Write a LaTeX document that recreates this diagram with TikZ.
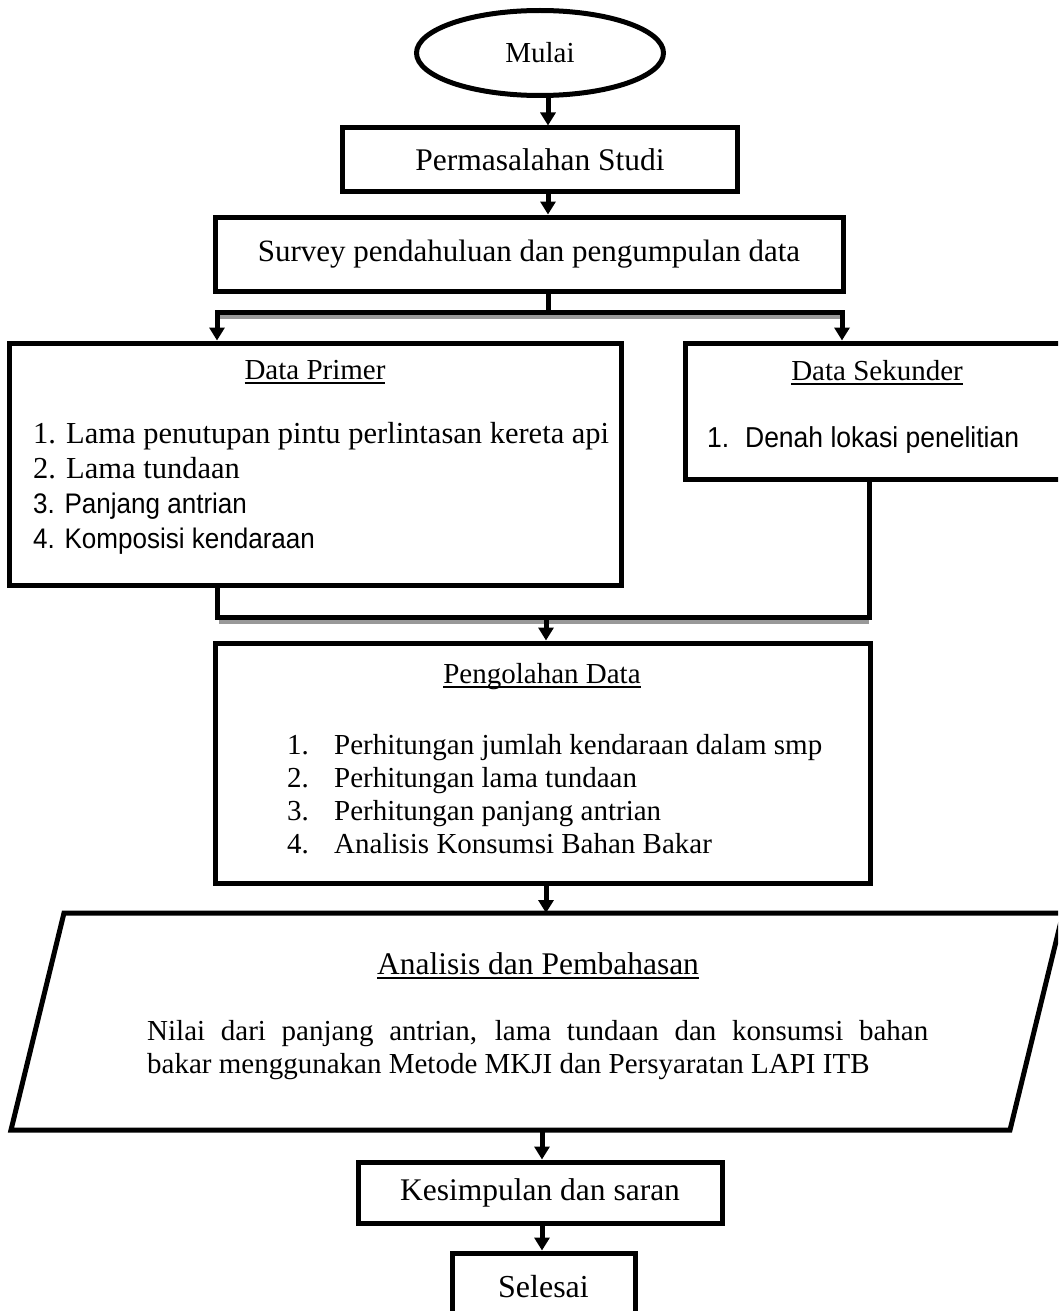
\documentclass[tikz,border=0pt]{standalone}
\usepackage{fontspec}
\setmainfont{Liberation Serif}
\setsansfont{Liberation Sans}
\newfontfamily\narrowsans[FakeStretch=0.92]{Liberation Sans}
\usetikzlibrary{arrows.meta,shapes.geometric}
\tikzset{
  box/.style={draw, line width=5pt, rectangle, inner sep=0pt, line join=miter},
  conn/.style={line width=5pt, line join=miter},
  arr/.style={line width=5pt, line join=miter, -{Triangle[width=15pt,length=13pt]}},
  shadowline/.style={line width=4pt, draw=black!40},
  txt/.style={inner sep=0pt, anchor=base west},
  ttl/.style={inner sep=0pt, anchor=base},
}
\newcommand{\fsz}[1]{\fontsize{#1}{#1}\selectfont}
\newcommand{\ulx}[1]{\setbox0\hbox{#1}\rlap{\rule[-5pt]{\wd0}{1.8pt}}\box0}
\begin{document}
\begin{tikzpicture}[x=1pt,y=-1pt]
\useasboundingbox (0,0) rectangle (1058,1311);
\fill[white] (0,0) rectangle (1058,1311);
\begin{scope}
\clip (0,0) rectangle (1058,1311);
% nodes
\node[ellipse, draw, line width=5pt, minimum width=247pt, minimum height=85pt, inner sep=0pt] (mulai) at (540,53) {\fsz{29}Mulai};
\node[box, minimum width=395pt, minimum height=63pt] (perm) at (540,159.5) {\fsz{31.5}Permasalahan Studi};
\node[box, minimum width=628pt, minimum height=74pt] (survey) at (529,254) {\fsz{31}Survey pendahuluan dan pengumpulan data};
\node[box, minimum width=612pt, minimum height=242pt] (primer) at (315,464) {};
\node[box, minimum width=384pt, minimum height=136pt] (sekunder) at (877,411) {};
\node[box, minimum width=655pt, minimum height=240pt] (olah) at (542.5,763) {};
\node[box, minimum width=364pt, minimum height=61pt] (kes) at (540,1192.5) {\fsz{31.5}Kesimpulan dan saran};
\node[box, minimum width=183pt, minimum height=68pt] (sel) at (543.5,1287) {\fsz{32}Selesai};
% parallelogram
\coordinate (pTL) at (64,913);
\coordinate (pTR) at (1063,913);
\coordinate (pBR) at (1010,1130);
\coordinate (pBL) at (11,1130);
\draw[line width=5pt, line join=miter] (pTL) -- (pTR) -- (pBR) -- (pBL) -- cycle;
% texts
\node[ttl] (primerT) at (315,379) {\fsz{29}\ulx{Data Primer}};
\node[txt] (p1) at (33,443) {\fsz{30.5}1. Lama penutupan pintu perlintasan kereta api};
\node[txt] (p2) at (33,478) {\fsz{30.5}2. Lama tundaan};
\node[txt] (p3) at (33,513) {\fsz{28.3}\narrowsans 3. Panjang antrian};
\node[txt] (p4) at (33,548) {\fsz{28.3}\narrowsans 4. Komposisi kendaraan};
\node[ttl] (sekT) at (877,380) {\fsz{29}\ulx{Data Sekunder}};
\node[txt] (s1) at (707,447) {\fsz{28.8}\narrowsans 1.\hspace{0.55em}Denah lokasi penelitian};
\node[ttl] (olahT) at (542,683) {\fsz{29}\ulx{Pengolahan Data}};
\node[txt] (o1n) at (287,754) {\fsz{29}1.};
\node[txt] (o1) at (334,754) {\fsz{29}Perhitungan jumlah kendaraan dalam smp};
\node[txt] (o2n) at (287,787) {\fsz{29}2.};
\node[txt] (o2) at (334,787) {\fsz{29}Perhitungan lama tundaan};
\node[txt] (o3n) at (287,820) {\fsz{29}3.};
\node[txt] (o3) at (334,820) {\fsz{29}Perhitungan panjang antrian};
\node[txt] (o4n) at (287,853) {\fsz{29}4.};
\node[txt] (o4) at (334,853) {\fsz{29}Analisis Konsumsi Bahan Bakar};
\node[ttl] (anT) at (538,974) {\fsz{31.5}\ulx{Analisis dan Pembahasan}};
\node[txt] (n1) at (147,1040) {\fsz{29}\makebox[781pt][s]{Nilai dari panjang antrian, lama tundaan dan konsumsi bahan}};
\node[txt] (n2) at (147,1073) {\fsz{29}bakar menggunakan Metode MKJI dan Persyaratan LAPI ITB};
% connector coordinates
\coordinate (ax1) at (548,0);
\coordinate (ax2) at (546,0);
\coordinate (ax3) at (542,0);
\coordinate (sj) at (548,312);
\coordinate (sl) at (217,312);
\coordinate (sr) at (842,312);
\coordinate (ml) at (217,617);
\coordinate (mr) at (869,617);
\coordinate (mj) at (546,617);
\coordinate (paraT) at (546,913);
\coordinate (paraB) at (542,1130);
% connectors
\draw[arr] (mulai.south -| ax1) -- (perm.north -| ax1);
\draw[arr] (perm.south -| ax1) -- (survey.north -| ax1);
\draw[shadowline] (219,316.5) -- (840,316.5);
\draw[conn] (survey.south -| sj) -- (sj);
\draw[arr] (sj) -| (primer.north -| sl);
\draw[arr] (sj) -| (sekunder.north -| sr);
\draw[shadowline] (219,621.5) -- (869,621.5);
\draw[conn] (primer.south -| ml) -- (ml) -- (mr) -- (sekunder.south -| mr);
\draw[arr] (mj) -- (olah.north -| mj);
\draw[arr] (olah.south -| ax2) -- (paraT);
\draw[arr] (paraB) -- (kes.north -| ax3);
\draw[arr] (kes.south -| ax3) -- (sel.north -| ax3);
\end{scope}
\end{tikzpicture}
\end{document}
